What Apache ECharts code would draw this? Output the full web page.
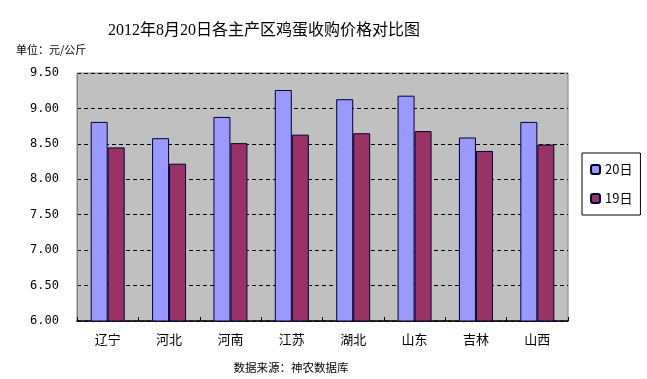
<!DOCTYPE html>
<html><head><meta charset="utf-8">
<script src="https://cdn.jsdelivr.net/npm/echarts@6/dist/echarts.min.js"></script>
<style>html,body{margin:0;padding:0;background:#fff}#c{width:647px;height:379px}</style>
</head><body><div id="c"></div>
<script>
var categories = ['辽宁','河北','河南','江苏','湖北','山东','吉林','山西'];
var series20 = [8.81, 8.58, 8.88, 9.26, 9.13, 9.18, 8.59, 8.81];
var series19 = [8.45, 8.22, 8.51, 8.63, 8.65, 8.68, 8.40, 8.49];
var yTicks = [6.0, 6.5, 7.0, 7.5, 8.0, 8.5, 9.0, 9.5];

var chart = echarts.init(document.getElementById('c'));
var fontCJK = '"Liberation Serif","Noto Sans CJK SC",serif';
chart.setOption({
  animation: false,
  backgroundColor: '#fff',
  title: [{
    text: '2012年8月20日各主产区鸡蛋收购价格对比图',
    left: 259, top: 18, textAlign: 'center',
    textStyle: {fontFamily: fontCJK, fontSize: 16, fontWeight: 'normal', color: '#000'}
  },{
    text: '单位：元/公斤',
    left: 11, top: 39,
    textStyle: {fontFamily: '"Noto Sans CJK SC"', fontSize: 11, fontWeight: 'normal', color: '#000'}
  },{
    text: '数据来源：神农数据库',
    left: 286, top: 357, textAlign: 'center',
    textStyle: {fontFamily: '"Noto Sans CJK SC"', fontSize: 11.5, fontWeight: 'normal', color: '#000'}
  }],
  grid: {left: 77, right: 79, top: 73, bottom: 58, show: true, backgroundColor: '#C0C0C0', borderColor: '#808080', borderWidth: 1},
  legend: {
    orient: 'vertical', left: 582, top: 153, width: 54,
    data: ['20日','19日'],
    borderColor: '#000', borderWidth: 1, padding: [10, 8, 10, 8],
    itemWidth: 9, itemHeight: 9, itemGap: 16,
    textStyle: {fontFamily: '"Noto Sans CJK SC"', fontSize: 13, color: '#000'}
  },
  xAxis: {
    type: 'category', data: categories,
    axisLine: {lineStyle: {color: '#000', width: 1.5}},
    axisTick: {show: true, inside: true, length: 4, lineStyle: {color: '#000'}},
    axisLabel: {fontFamily: '"Noto Sans CJK SC"', fontSize: 13, color: '#000', margin: 12}
  },
  yAxis: {
    type: 'value', min: 6, max: 9.5, interval: 0.5,
    axisLine: {show: true, lineStyle: {color: '#808080'}},
    axisTick: {show: false},
    splitLine: {show: true, lineStyle: {color: '#000', type: [4, 3], width: 1}},
    axisLabel: {fontFamily: '"DejaVu Sans Mono",monospace', fontSize: 12, color: '#000', margin: 18,
      formatter: function(v){ return v.toFixed(2); }}
  },
  series: [{
    name: '20日', type: 'bar', data: series20, barWidth: 17, barGap: '0%',
    itemStyle: {color: '#9999FF', borderColor: '#000033', borderWidth: 1}
  },{
    name: '19日', type: 'bar', data: series19, barWidth: 17, barGap: '0%',
    itemStyle: {color: '#993366', borderColor: '#000033', borderWidth: 1}
  }]
});
</script></body></html>
